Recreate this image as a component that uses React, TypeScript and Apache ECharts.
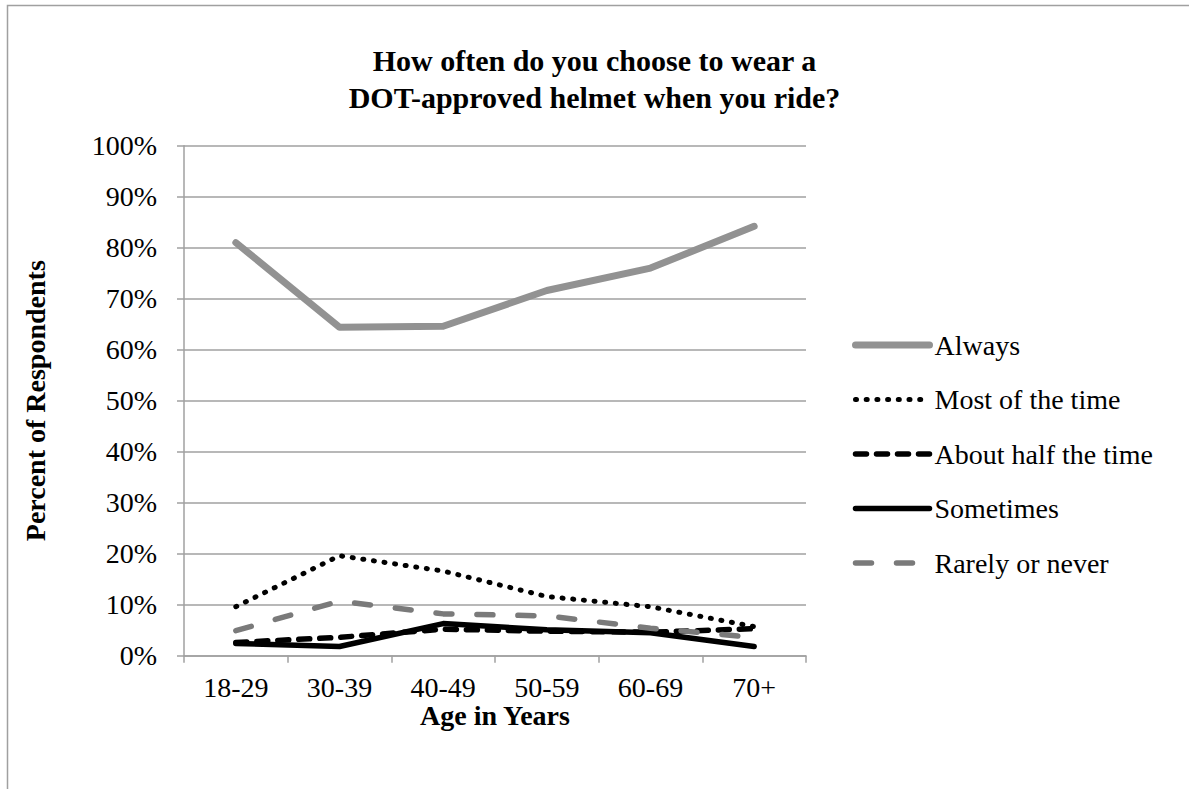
import React, { useEffect, useRef } from "react";
import * as echarts from "echarts";

const categories = ["18-29", "30-39", "40-49", "50-59", "60-69", "70+"];
const seriesNames = ["Always", "Most of the time", "About half the time", "Sometimes", "Rarely or never"];
const always = [81.0, 64.4, 64.6, 71.6, 76.0, 84.2];
const mostOfTheTime = [9.6, 19.6, 16.6, 11.6, 9.6, 5.7];
const aboutHalfTheTime = [2.6, 3.6, 5.2, 4.8, 4.6, 5.3];
const sometimes = [2.4, 1.8, 6.3, 5.1, 4.5, 1.8];
const rarelyOrNever = [4.9, 10.7, 8.2, 7.8, 5.4, 3.6];
const yTicks = [0, 100, 10];

const FONT = "'Liberation Serif', 'Times New Roman', serif";

export default function App() {
  const ref = useRef<HTMLDivElement>(null);
  useEffect(() => {
    if (!ref.current) return;
    const chart = echarts.init(ref.current, null, { renderer: "svg" });
    const lineBase = { type: "line", symbol: "none", smooth: false };
    chart.setOption({
      animation: false,
      backgroundColor: "#ffffff",
      textStyle: { fontFamily: FONT, color: "#000" },
      title: {
        text: "How often do you choose to wear a\nDOT-approved helmet when you ride?",
        left: "center",
        top: 37,
        textStyle: { fontFamily: FONT, fontSize: 30, fontWeight: "bold", color: "#000", lineHeight: 37 },
      },
      graphic: [
        {
          type: "rect",
          shape: { x: 7.5, y: 5.5, width: 1300, height: 900 },
          style: { fill: "none", stroke: "#a0a0a0", lineWidth: 1.5 },
          silent: true,
        },
      ],
      legend: {
        orient: "vertical",
        left: 852,
        top: 330,
        padding: 0,
        itemWidth: 74,
        itemHeight: 14,
        itemGap: 24.5,
        itemStyle: { opacity: 0 },
        lineStyle: { width: "inherit", type: "inherit", cap: "inherit", join: "inherit" },
        textStyle: { fontFamily: FONT, fontSize: 28, color: "#000", lineHeight: 30 },
        data: seriesNames,
      },
      grid: { left: 184, right: 383, top: 145.7, bottom: 133.3, containLabel: false },
      xAxis: {
        type: "category",
        data: categories,
        boundaryGap: true,
        name: "Age in Years",
        nameLocation: "middle",
        nameGap: 46,
        nameMoveOverlap: false,
        nameTextStyle: { fontFamily: FONT, fontSize: 28, fontWeight: "bold", color: "#000" },
        axisLine: { lineStyle: { color: "#a0a0a0", width: 1.5 } },
        axisTick: { show: true, length: 7, alignWithLabel: false, lineStyle: { color: "#a0a0a0", width: 1.5 } },
        axisLabel: { fontFamily: FONT, fontSize: 28, color: "#000", margin: 18 },
      },
      yAxis: {
        type: "value",
        min: yTicks[0],
        max: yTicks[1],
        interval: yTicks[2],
        name: "Percent of Respondents",
        nameLocation: "middle",
        nameGap: 135,
        nameMoveOverlap: false,
        nameTextStyle: { fontFamily: FONT, fontSize: 28, fontWeight: "bold", color: "#000" },
        axisLine: { show: true, lineStyle: { color: "#a0a0a0", width: 1.5 } },
        axisTick: { show: true, length: 7, lineStyle: { color: "#a0a0a0", width: 1.5 } },
        axisLabel: { fontFamily: FONT, fontSize: 28, color: "#000", margin: 27, formatter: "{value}%" },
        splitLine: { show: true, lineStyle: { color: "#a0a0a0", width: 1.5 } },
      },
      series: [
        {
          ...lineBase,
          name: seriesNames[0],
          data: always,
          color: "#929292",
          lineStyle: { color: "#929292", width: 7, type: "solid", cap: "round", join: "round" },
        },
        {
          ...lineBase,
          name: seriesNames[1],
          data: mostOfTheTime,
          color: "#000",
          lineStyle: { color: "#000", width: 5, type: [1, 9.7], cap: "round", join: "round" },
        },
        {
          ...lineBase,
          name: seriesNames[2],
          data: aboutHalfTheTime,
          color: "#000",
          lineStyle: { color: "#000", width: 5.5, type: [11, 10], cap: "round", join: "round" },
        },
        {
          ...lineBase,
          name: seriesNames[3],
          data: sometimes,
          color: "#000",
          lineStyle: { color: "#000", width: 5.5, type: "solid", cap: "round", join: "round" },
        },
        {
          ...lineBase,
          name: seriesNames[4],
          data: rarelyOrNever,
          color: "#7a7a7a",
          lineStyle: { color: "#7a7a7a", width: 5.5, type: [16, 25], cap: "round", join: "round" },
        },
      ],
    });
    return () => chart.dispose();
  }, []);
  return (
    <div
      ref={ref}
      style={{ position: "fixed", left: 0, top: 0, width: "1189px", height: "789px", background: "#fff" }}
    />
  );
}
